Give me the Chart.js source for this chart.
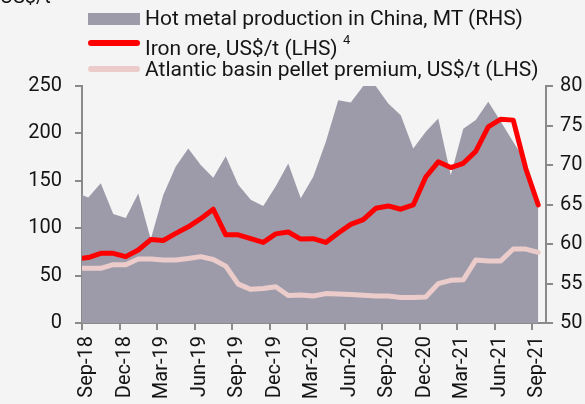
<!DOCTYPE html>
<html>
<head>
<meta charset="utf-8">
<script src="https://cdn.jsdelivr.net/npm/chart.js@4.4.0/dist/chart.umd.min.js"></script>
<style>
html, body { margin:0; padding:0; background:#f4f4f4; overflow:hidden; }
#wrap { position:relative; width:585px; height:404px; }
#c { position:absolute; left:0; top:0; }
.lg { position:absolute; left:145px; font-family:Roboto; font-size:21px; line-height:26px; color:#151515; white-space:nowrap; }
.lg sup { font-size:13px; position:relative; top:-3px; }
.sw { position:absolute; left:88px; width:52px; }
#unit { position:absolute; left:0; top:-16px; font-family:Roboto; font-size:20px; color:#151515; }
</style>
</head>
<body>
<div id="wrap">
  <canvas id="c" width="585" height="404"></canvas>
  <div id="unit">US$/t</div>
  <div class="sw" style="top:13px;height:12px;background:#9d9ba9"></div>
  <div class="lg" style="top:5px">Hot metal production in China, MT (RHS)</div>
  <div class="sw" style="top:40px;height:6px;border-radius:3px;background:#ff0000"></div>
  <div class="lg" style="top:30px">Iron ore, US$/t (LHS) <sup>4</sup></div>
  <div class="sw" style="top:66px;height:6px;border-radius:3px;background:#ebcccb"></div>
  <div class="lg" style="top:56px">Atlantic basin pellet premium, US$/t (LHS)</div>
</div>
<script>
// monthly data, first entry (Aug-18) only feeds the left edge
var months = ['Aug-18','Sep-18','Oct-18','Nov-18','Dec-18',
  'Jan-19','Feb-19','Mar-19','Apr-19','May-19','Jun-19','Jul-19','Aug-19','Sep-19','Oct-19','Nov-19','Dec-19',
  'Jan-20','Feb-20','Mar-20','Apr-20','May-20','Jun-20','Jul-20','Aug-20','Sep-20','Oct-20','Nov-20','Dec-20',
  'Jan-21','Feb-21','Mar-21','Apr-21','May-21','Jun-21','Jul-21','Aug-21','Sep-21'];

var ironOre = [67.5, 69, 73.5, 73.5, 70,
  77, 88, 87, 94.5, 101.5, 110, 120, 93, 93, 89, 85, 94,
  96, 88.5, 89, 85, 95, 104, 109, 121, 123.5, 120, 124.5, 154,
  170, 164, 168.5, 181, 207, 215, 214, 163, 124.5];

var pelletPremium = [57.7, 57.7, 57.7, 61.5, 61.5,
  67.5, 67.5, 66.5, 66.5, 68, 70, 67, 60, 41, 35.5, 36.5, 38.3,
  29, 29.5, 28.5, 31, 30.5, 30, 29.2, 28.5, 28.5, 27, 27, 27.5,
  41.5, 45, 45.5, 66.5, 65.5, 65.5, 78, 78, 74.5];

var hotMetal = [66.5, 65.9, 67.7, 63.8, 63.3,
  66.4, 60.6, 66.2, 69.8, 72.1, 70.0, 68.4, 71.1, 67.5, 65.6, 64.8, 67.3,
  70.2, 65.8, 68.5, 72.9, 78.2, 77.9, 80, 80, 77.8, 76.3, 72.1, 74.2,
  75.9, 68.7, 74.6, 75.7, 78.0, 75.5, 72.9, 70.4, 64.7];

var xTickLabels = ['Sep-18','Dec-18','Mar-19','Jun-19','Sep-19','Dec-19','Mar-20','Jun-20','Sep-20','Dec-20','Mar-21','Jun-21','Sep-21'];
var leftTicks = [0, 50, 100, 150, 200, 250];
var rightTicks = [50, 55, 60, 65, 70, 75, 80];

// points sit mid-month, ticks at the start of the month
function pts(vals) {
  return vals.map(function(v, i) { return { x: i - 0.5, y: v }; });
}
function tickPos(lbl) { return months.indexOf(lbl) - 1; }

var axisGrey = '#8a8a8a';
var tickFont = { family: 'Roboto', size: 20 };

new Chart(document.getElementById('c'), {
  type: 'line',
  data: {
    datasets: [
      {
        label: 'Iron ore, US$/t (LHS)',
        data: pts(ironOre),
        yAxisID: 'yL',
        borderColor: '#ff0000',
        borderWidth: 5,
        borderJoinStyle: 'round',
        borderCapStyle: 'round',
        pointRadius: 0,
        tension: 0,
        fill: false
      },
      {
        label: 'Atlantic basin pellet premium, US$/t (LHS)',
        data: pts(pelletPremium),
        yAxisID: 'yL',
        borderColor: '#ebcccb',
        borderWidth: 5,
        borderJoinStyle: 'round',
        borderCapStyle: 'round',
        pointRadius: 0,
        tension: 0,
        fill: false
      },
      {
        label: 'Hot metal production in China, MT (RHS)',
        data: pts(hotMetal),
        yAxisID: 'yR',
        borderWidth: 0,
        backgroundColor: '#9d9ba9',
        pointRadius: 0,
        tension: 0,
        fill: 'start'
      }
    ]
  },
  options: {
    responsive: false,
    animation: false,
    devicePixelRatio: 1,
    layout: { padding: { top: 86, left: 0, right: 0, bottom: 0 } },
    plugins: { legend: { display: false }, tooltip: { enabled: false } },
    scales: {
      x: {
        type: 'linear',
        min: 0,
        max: 37.12,
        afterFit: function(s) { s.height = 81; },
        afterBuildTicks: function(s) {
          s.ticks = xTickLabels.map(function(l) { return { value: tickPos(l) }; });
        },
        ticks: {
          autoSkip: false,
          minRotation: 90,
          maxRotation: 90,
          padding: 6,
          labelOffset: 5,
          color: '#151515',
          font: tickFont,
          callback: function(v) { return months[v + 1]; }
        },
        grid: { drawOnChartArea: false, tickLength: 7, color: axisGrey, lineWidth: 2 },
        border: { display: true, color: axisGrey, width: 2 }
      },
      yL: {
        position: 'left',
        min: 0,
        max: 250,
        afterFit: function(s) { s.width = 82; },
        afterBuildTicks: function(s) {
          s.ticks = leftTicks.map(function(v) { return { value: v }; });
        },
        ticks: { padding: 13, color: '#151515', font: tickFont },
        grid: { drawOnChartArea: false, tickLength: 7, color: axisGrey, lineWidth: 2 },
        border: { display: true, color: axisGrey, width: 2 }
      },
      yR: {
        position: 'right',
        min: 50,
        max: 80,
        afterFit: function(s) { s.width = 39; },
        afterBuildTicks: function(s) {
          s.ticks = rightTicks.map(function(v) { return { value: v }; });
        },
        ticks: { padding: 7, color: '#151515', font: tickFont },
        grid: { drawOnChartArea: false, tickLength: 7, color: axisGrey, lineWidth: 2 },
        border: { display: true, color: axisGrey, width: 2 }
      }
    }
  }
});
</script>
</body>
</html>
